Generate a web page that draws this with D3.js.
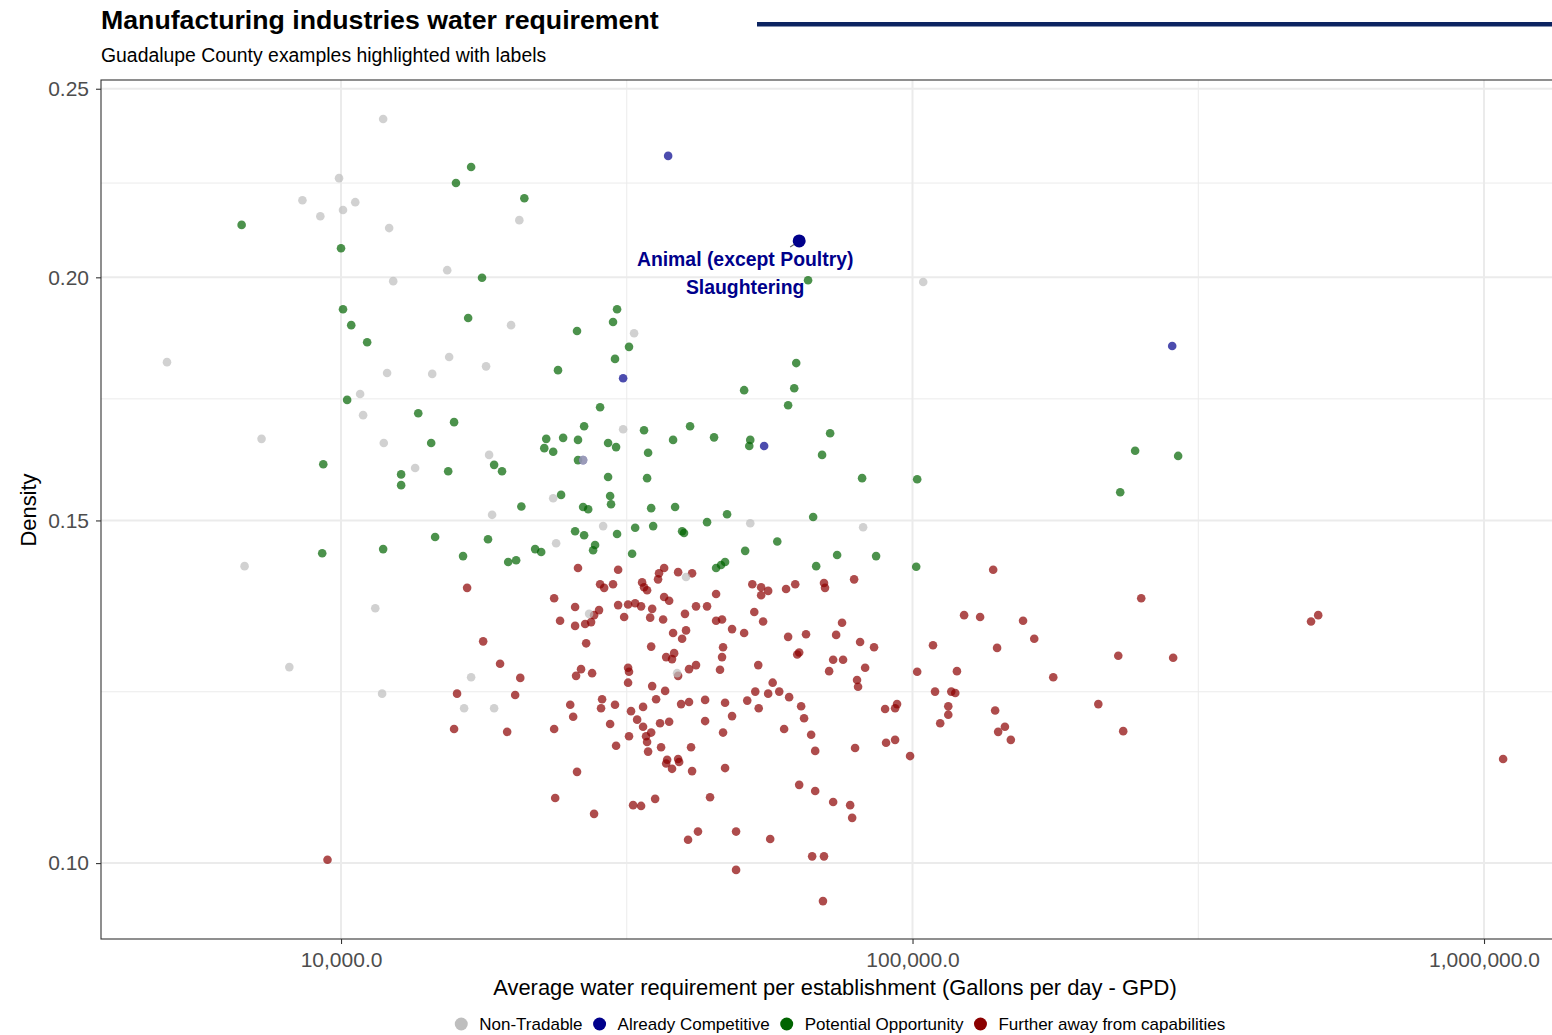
<!DOCTYPE html>
<html><head><meta charset="utf-8">
<script src="https://cdn.jsdelivr.net/npm/d3@7"></script>
<style>
body{margin:0;background:#fff;}
svg{display:block;font-family:"Liberation Sans",Arial,Helvetica,sans-serif;}
</style>
</head><body>
<svg id="chart" width="1552" height="1035"></svg>
<script>
// ---------- data ----------
const categories = ["Non-Tradable", "Already Competitive", "Potential Opportunity", "Further away from capabilities"];
const categoryColors = ["#bebebe", "#00008b", "#006400", "#8b0000"];

const xTickValues = [10000, 100000, 1000000];
const xTickLabels = ["10,000.0", "100,000.0", "1,000,000.0"];
const yTickValues = [0.10, 0.15, 0.20, 0.25];
const yTickLabels = ["0.10", "0.15", "0.20", "0.25"];

// [GPD, density]
const nonTradable = [[11850,0.2412],[9920,0.2249],[8560,0.2191],[10590,0.2186],[10080,0.2166],[9200,0.2150],[12140,0.2120],[15340,0.2017],[12340,0.1991],[4960,0.1809],[15460,0.1820],[12040,0.1786],[14440,0.1784],[10800,0.1742],[10930,0.1699],[20510,0.2140],[19840,0.1890],[32570,0.1872],[17940,0.1800],[104400,0.1989],[7260,0.1652],[11880,0.1644],[13480,0.1596],[6780,0.1421],[11480,0.1352],[8120,0.1261],[11800,0.1222],[31160,0.1671],[18160,0.1621],[23510,0.1540],[18380,0.1510],[28750,0.1490],[23790,0.1460],[52010,0.1495],[81950,0.1488],[40150,0.1403],[27170,0.1343],[16890,0.1246],[16420,0.1201],[18530,0.1201],[38730,0.1252],[26520,0.1611]];

const alreadyCompetitive = [[37360,0.2309],[31160,0.1775],[55000,0.1638],[284700,0.1844],[26520,0.1611]];

const potentialOpportunity = [[16890,0.2279],[15890,0.2236],[20930,0.2196],[6700,0.2128],[10000,0.2070],[17650,0.1999],[10080,0.1926],[10420,0.1890],[11110,0.1852],[16690,0.1906],[30410,0.1926],[29920,0.1897],[25880,0.1877],[31910,0.1842],[30160,0.1816],[23970,0.1792],[28400,0.1715],[10250,0.1730],[13650,0.1703],[15770,0.1685],[65650,0.1993],[62590,0.1807],[50740,0.1750],[62090,0.1754],[60580,0.1719],[14380,0.1644],[9310,0.1603],[15400,0.1590],[12740,0.1584],[12740,0.1564],[14610,0.1471],[11850,0.1450],[9270,0.1443],[26630,0.1677],[22860,0.1652],[24470,0.1654],[25980,0.1650],[29330,0.1644],[30290,0.1636],[22680,0.1634],[23510,0.1627],[25980,0.1611],[18530,0.1602],[19130,0.1590],[29330,0.1579],[24270,0.1546],[29570,0.1544],[29680,0.1529],[20680,0.1525],[26520,0.1524],[27070,0.1520],[32710,0.1487],[25680,0.1481],[26630,0.1474],[30410,0.1476],[18080,0.1467],[27830,0.1457],[27610,0.1448],[21860,0.1450],[22400,0.1445],[16350,0.1438],[32310,0.1442],[20250,0.1431],[19610,0.1428],[33900,0.1669],[40810,0.1677],[38110,0.1650],[44950,0.1655],[52010,0.1650],[51800,0.1638],[71750,0.1663],[34460,0.1625],[69460,0.1621],[34320,0.1577],[81620,0.1577],[34890,0.1522],[38420,0.1524],[47370,0.1511],[67010,0.1506],[35170,0.1490],[39520,0.1481],[39830,0.1478],[43700,0.1497],[57990,0.1463],[50950,0.1447],[73800,0.1440],[86350,0.1438],[45320,0.1418],[46230,0.1423],[46990,0.1428],[67830,0.1421],[101900,0.1575],[101500,0.1420],[245200,0.1629],[291600,0.1619],[230900,0.1551]];

const furtherAway = [[25980,0.1418],[30540,0.1415],[16620,0.1385],[28400,0.1391],[29920,0.1391],[28870,0.1385],[36760,0.1418],[36010,0.1409],[35870,0.1399],[38890,0.1411],[41140,0.1409],[33640,0.1394],[33900,0.1386],[34320,0.1381],[52440,0.1391],[54340,0.1386],[54340,0.1373],[55900,0.1380],[60080,0.1383],[62340,0.1391],[70000,0.1393],[70290,0.1385],[79030,0.1399],[23600,0.1368],[25680,0.1354],[28280,0.1349],[27720,0.1341],[30540,0.1357],[31790,0.1358],[32710,0.1360],[24170,0.1332],[25680,0.1324],[26740,0.1327],[27390,0.1330],[31290,0.1338],[26850,0.1297],[17730,0.1300],[18980,0.1266],[26300,0.1258],[25780,0.1248],[27500,0.1252],[31790,0.1260],[31910,0.1254],[31790,0.1238],[20590,0.1245],[15960,0.1222],[20170,0.1220],[25180,0.1206],[28630,0.1214],[28510,0.1201],[30160,0.1206],[25480,0.1189],[32170,0.1197],[32970,0.1185],[15770,0.1172],[19530,0.1168],[23600,0.1172],[29570,0.1179],[31910,0.1162],[30290,0.1149],[45320,0.1375],[36760,0.1370],[37510,0.1364],[33500,0.1355],[35030,0.1351],[41800,0.1355],[43700,0.1355],[39980,0.1343],[34750,0.1337],[36610,0.1334],[52860,0.1346],[54770,0.1331],[45320,0.1332],[46420,0.1334],[48330,0.1319],[50740,0.1313],[38110,0.1313],[40150,0.1317],[39520,0.1304],[60580,0.1307],[65110,0.1311],[73510,0.1310],[75280,0.1329],[80960,0.1299],[85640,0.1291],[34890,0.1292],[46610,0.1291],[46420,0.1276],[37060,0.1276],[37950,0.1273],[38270,0.1282],[62840,0.1280],[63340,0.1283],[72630,0.1272],[75590,0.1272],[38890,0.1248],[40640,0.1258],[41800,0.1264],[46040,0.1257],[53710,0.1264],[71460,0.1255],[82620,0.1260],[79970,0.1242],[80300,0.1232],[35030,0.1233],[36910,0.1226],[56920,0.1238],[53070,0.1225],[55900,0.1222],[58450,0.1225],[60830,0.1217],[35590,0.1214],[33770,0.1203],[39360,0.1207],[40640,0.1210],[43360,0.1213],[46990,0.1209],[51380,0.1212],[53810,0.1201],[63840,0.1204],[64600,0.1187],[33770,0.1175],[36160,0.1180],[37510,0.1182],[43360,0.1183],[48330,0.1190],[34890,0.1167],[34180,0.1162],[34320,0.1154],[46610,0.1167],[59610,0.1172],[66470,0.1164],[89540,0.1200],[93220,0.1201],[93960,0.1207],[89890,0.1153],[93220,0.1157],[36310,0.1147],[40970,0.1147],[34460,0.1141],[67560,0.1142],[79340,0.1146],[38890,0.1131],[37210,0.1130],[37060,0.1125],[37950,0.1118],[39050,0.1127],[41140,0.1115],[25880,0.1114],[46990,0.1119],[63340,0.1097],[67560,0.1089],[72630,0.1075],[77780,0.1071],[78410,0.1055],[23700,0.1080],[32440,0.1071],[33500,0.1070],[35450,0.1079],[44230,0.1081],[27720,0.1060],[40480,0.1028],[42130,0.1038],[49120,0.1038],[56360,0.1029],[66740,0.1008],[70000,0.1008],[49120,0.0992],[69710,0.0956],[9470,0.1004],[138400,0.1415],[251300,0.1368],[123100,0.1341],[131300,0.1338],[156100,0.1332],[163300,0.1304],[108600,0.1294],[140600,0.1290],[229100,0.1278],[285800,0.1275],[101900,0.1254],[119600,0.1255],[176300,0.1246],[109500,0.1225],[116900,0.1225],[118800,0.1223],[211400,0.1207],[115500,0.1204],[115500,0.1192],[111800,0.1180],[139500,0.1198],[141200,0.1168],[145100,0.1175],[148600,0.1157],[233700,0.1169],[99020,0.1135],[512700,0.1341],[498100,0.1331],[1080000,0.1131]];

const highlightName = ["Animal (except Poultry)", "Slaughtering"];
const highlightPoint = [63340, 0.2088];

// ---------- layout ----------
const svg = d3.select("#chart");
const P = {left: 101, top: 80, right: 1553, bottom: 939};

const x = d3.scaleLog().domain([3802, 1320400]).range([P.left, P.right]);
const y = d3.scaleLog().domain([0.09141, 0.2526]).range([P.bottom, P.top]);

// title / subtitle / decorative bar
svg.append("text").attr("x", 101).attr("y", 29)
  .attr("font-size", 26.7).attr("font-weight", "bold").attr("fill", "#000")
  .text("Manufacturing industries water requirement");
svg.append("text").attr("x", 101).attr("y", 62)
  .attr("font-size", 19.4).attr("fill", "#000")
  .text("Guadalupe County examples highlighted with labels");
svg.append("rect").attr("x", 757).attr("y", 22).attr("width", 800).attr("height", 4.5).attr("fill", "#0c2461");

// clip
svg.append("clipPath").attr("id", "panelClip").append("rect")
  .attr("x", P.left).attr("y", P.top).attr("width", P.right - P.left).attr("height", P.bottom - P.top);

const grid = svg.append("g").attr("clip-path", "url(#panelClip)");
const xMinor = [3162.28, 31622.8, 316228];
const yMinor = [0.122474, 0.173205, 0.223607];
grid.selectAll(".xmin").data(xMinor).enter().append("line")
  .attr("x1", d => x(d)).attr("x2", d => x(d)).attr("y1", P.top).attr("y2", P.bottom)
  .attr("stroke", "#ebebeb").attr("stroke-width", 1);
grid.selectAll(".ymin").data(yMinor).enter().append("line")
  .attr("y1", d => y(d)).attr("y2", d => y(d)).attr("x1", P.left).attr("x2", P.right)
  .attr("stroke", "#ebebeb").attr("stroke-width", 1);
grid.selectAll(".xmaj").data(xTickValues).enter().append("line")
  .attr("x1", d => x(d)).attr("x2", d => x(d)).attr("y1", P.top).attr("y2", P.bottom)
  .attr("stroke", "#ebebeb").attr("stroke-width", 2);
grid.selectAll(".ymaj").data(yTickValues).enter().append("line")
  .attr("y1", d => y(d)).attr("y2", d => y(d)).attr("x1", P.left).attr("x2", P.right)
  .attr("stroke", "#ebebeb").attr("stroke-width", 2);

// points
const pts = svg.append("g").attr("clip-path", "url(#panelClip)");
const layers = [
  {data: furtherAway, color: categoryColors[3]},
  {data: potentialOpportunity, color: categoryColors[2]},
  {data: alreadyCompetitive, color: categoryColors[1]},
  {data: nonTradable, color: categoryColors[0]}
];
layers.forEach(L => {
  pts.append("g").selectAll("circle").data(L.data).enter().append("circle")
    .attr("cx", d => x(d[0])).attr("cy", d => y(d[1])).attr("r", 4.3)
    .attr("fill", L.color).attr("fill-opacity", 0.7);
});

// highlighted point + label
const hx = x(highlightPoint[0]), hy = y(highlightPoint[1]);
svg.append("line").attr("x1", hx - 9).attr("y1", hy + 6).attr("x2", hx - 2).attr("y2", hy + 1.5)
  .attr("stroke", "#666").attr("stroke-width", 1.2);
svg.append("circle").attr("cx", hx).attr("cy", hy).attr("r", 6.5).attr("fill", categoryColors[1]);
const lab = svg.append("text").attr("text-anchor", "middle").attr("font-size", 19.4)
  .attr("font-weight", "bold").attr("fill", categoryColors[1]);
highlightName.forEach((s, i) => {
  lab.append("tspan").attr("x", hx - 54).attr("y", hy + 25 + i * 28).text(s);
});

// axes
const xAxis = d3.axisBottom(x).tickValues(xTickValues).tickFormat((d, i) => xTickLabels[i]).tickSize(5).tickPadding(8);
const yAxis = d3.axisLeft(y).tickValues(yTickValues).tickFormat((d, i) => yTickLabels[i]).tickSize(5).tickPadding(7);
const gx = svg.append("g").attr("transform", `translate(0,${P.bottom})`).call(xAxis);
const gy = svg.append("g").attr("transform", `translate(${P.left},0)`).call(yAxis);
[gx, gy].forEach(g => {
  g.select(".domain").remove();
  g.selectAll(".tick line").attr("stroke", "#333").attr("stroke-width", 1.1);
  g.selectAll(".tick text").attr("fill", "#4d4d4d").attr("font-size", 21)
    .attr("font-family", '"Liberation Sans",Arial,sans-serif');
});

// panel border
svg.append("rect").attr("x", P.left).attr("y", P.top).attr("width", P.right - P.left).attr("height", P.bottom - P.top)
  .attr("fill", "none").attr("stroke", "#333").attr("stroke-width", 1.1);

// axis titles
svg.append("text").attr("x", 835).attr("y", 995).attr("text-anchor", "middle")
  .attr("font-size", 21.9).attr("fill", "#000")
  .text("Average water requirement per establishment (Gallons per day - GPD)");
svg.append("text").attr("transform", "translate(36,510) rotate(-90)").attr("text-anchor", "middle")
  .attr("font-size", 21.9).attr("fill", "#000").text("Density");

// legend
const leg = svg.append("g");
const legendCenter = 840, legendY = 1024;
let cursor = 0;
const items = [];
categories.forEach((c, i) => {
  const gi = leg.append("g");
  gi.append("circle").attr("cx", 0).attr("cy", 0).attr("r", 6.5).attr("fill", categoryColors[i]);
  const t = gi.append("text").attr("x", 18).attr("y", 0).attr("dy", "0.35em")
    .attr("font-size", 17).attr("fill", "#000").text(c);
  const w = t.node().getComputedTextLength();
  items.push({g: gi, start: cursor});
  cursor += 18 + w + 17;
});
const totalW = cursor - 17 + 6.5;
const startX = legendCenter - totalW / 2 + 6.5;
items.forEach(it => it.g.attr("transform", `translate(${startX + it.start},${legendY})`));
</script>
</body></html>
